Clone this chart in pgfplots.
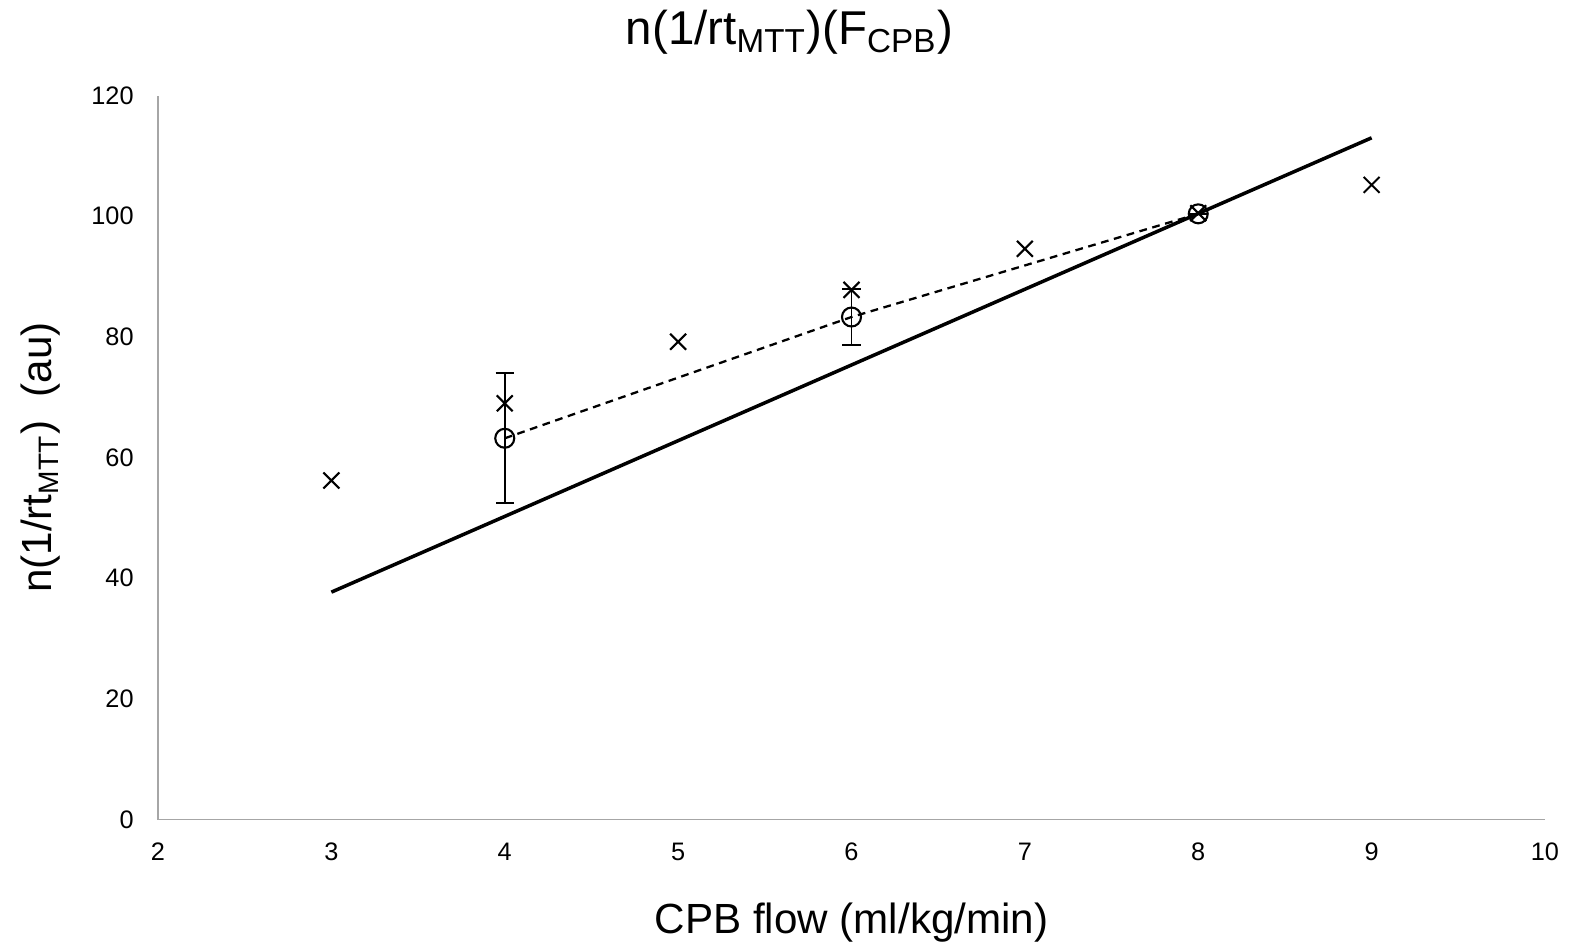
\documentclass[border=0pt]{standalone}
\usepackage{fontspec}
\setmainfont{Liberation Sans}
\usepackage{pgfplots}
\pgfplotsset{compat=1.18}
\begin{document}
\begin{tikzpicture}
\begin{axis}[
  name=a,
  scale only axis,
  width=13.87cm, height=7.24cm,
  xmin=2, xmax=10, ymin=0, ymax=120,
  xtick={2,3,...,10}, ytick={0,20,...,120},
  axis lines=left,
  axis line style={gray!70, line width=0.5pt, -},
  major tick length=0pt,
  /pgf/number format/assume math mode=true,
  tick label style={font=\fontsize{7.2}{8}\selectfont},
  xticklabel style={yshift=-1.1mm},
  yticklabel style={xshift=-1.2mm},
  clip=false,
]
\addplot[black, line width=1pt] coordinates {(3,37.7) (9,113)};
\addplot[black, line width=0.65pt, dashed, dash pattern=on 2.2pt off 1.6pt] coordinates {(4,63.2) (6,83.3) (8,100.4)};
\addplot[only marks, mark=x, mark size=3.2pt, mark options={line width=0.6pt}, black] coordinates {
(3,56.2) (4,69.0) (5,79.2) (6,87.8) (7,94.6) (8,100.5) (9,105.2)};
\addplot[only marks, mark=o, mark size=2.7pt, mark options={line width=0.6pt}, black,
  error bars/.cd, y dir=both, y explicit,
  error bar style={line width=0.55pt},
  error mark options={rotate=90, mark size=2.6pt, line width=0.55pt}] coordinates {
(4,63.2) +- (0,10.8)
(6,83.3) +- (0,4.6)
(8,100.4) +- (0,0)};
\end{axis}
\node[font=\fontsize{13.5}{15}\selectfont] at ([yshift=6.3mm,xshift=-6.2mm]a.north) {n(1/rt\textsubscript{MTT})(F\textsubscript{CPB})};
\node[font=\fontsize{12}{14}\selectfont] at ([yshift=-10.3mm]a.south) {CPB flow (ml/kg/min)};
\node[font=\fontsize{12}{14}\selectfont, rotate=90] at ([xshift=-11.7mm]a.west) {n(1/rt\textsubscript{MTT})~~(au)};
\pgfresetboundingbox
\path ([xshift=-1.58cm,yshift=-1.29cm]a.south west) rectangle ([xshift=0.33cm,yshift=0.956cm]a.north east);
\end{tikzpicture}
\end{document}
